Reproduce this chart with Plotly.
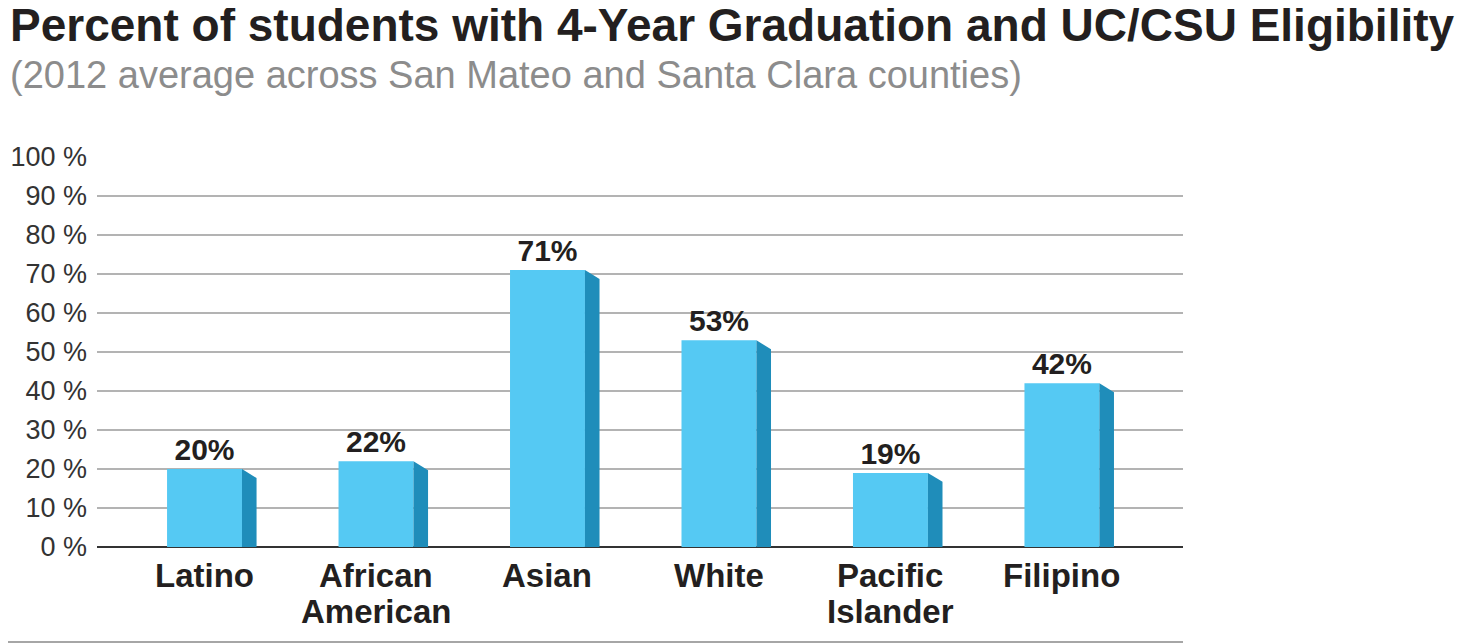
import plotly.graph_objects as go

# data
groups = ["Latino", "African<br>American", "Asian", "White", "Pacific<br>Islander", "Filipino"]
pct = [20, 22, 71, 53, 19, 42]
pct_labels = ["20%", "22%", "71%", "53%", "19%", "42%"]
y_ticks = [0, 10, 20, 30, 40, 50, 60, 70, 80, 90, 100]
y_tick_text = [f"{t} %" for t in y_ticks]

title = "Percent of students with 4-Year Graduation and UC/CSU Eligibility"
subtitle = "(2012 average across San Mateo and Santa Clara counties)"

W, H = 1463, 644
OFF = 8  # page body margin, the figure is drawn 8px in from the window corner
ML, MR = 97 - OFF, 280 + OFF
MT, MB = 157 - OFF, 97 + OFF
plot_w = W - ML - MR
plot_h = H - MT - MB


def px_x(x):
    # window pixel x -> paper coordinate
    return (x - OFF - ML) / plot_w


def px_y(y):
    # window pixel y -> paper coordinate
    return 1 - (y - OFF - MT) / plot_h


front = "#55c9f3"
side = "#1f8dba"
ink = "#231f20"
bar_w = 0.437
dx = 0.085      # depth of side face, in category units
dy = 2.3        # slope of side face top, in percent

xs = list(range(len(groups)))

fig = go.Figure()
fig.add_trace(go.Bar(
    x=xs, y=pct, width=bar_w, marker_color=front, marker_line_width=0,
    text=pct_labels, textposition="outside", cliponaxis=False,
    textfont=dict(family="Liberation Sans", size=30, color=ink, weight="bold"),
    hoverinfo="skip", showlegend=False,
))

# fake 3d side faces
for x, v in zip(xs, pct):
    xr = x + bar_w / 2
    fig.add_trace(go.Scatter(
        x=[xr, xr + dx, xr + dx, xr, xr],
        y=[v, v - dy, 0, 0, v],
        fill="toself", fillcolor=side, mode="lines", line=dict(width=0),
        hoverinfo="skip", showlegend=False,
    ))

fig.update_xaxes(
    range=[-0.627, 5.706], showticklabels=False, automargin=False,
    showgrid=False, zeroline=False, showline=False, ticks="",
)
fig.update_yaxes(
    range=[0, 100], tickvals=y_ticks, ticktext=y_tick_text, automargin=False,
    tickfont=dict(family="Liberation Sans", size=27, color="#333333"),
    showgrid=True, gridcolor="#b3b3b3", gridwidth=2,
    zeroline=True, zerolinecolor="#333333", zerolinewidth=2,
    showline=False, ticks="", ticklabelstandoff=9,
)

# category names, one annotation per line so the line spacing can be tight
for x, g in zip(xs, groups):
    for i, line in enumerate(g.split("<br>")):
        fig.add_annotation(
            text="<b>" + line + "</b>", x=x, xref="x", yref="paper",
            y=px_y(575 + 36 * i), yanchor="middle", showarrow=False,
            font=dict(family="Liberation Sans", size=33, color=ink),
        )

fig.add_annotation(
    text="<b>" + title + "</b>", xref="paper", yref="paper",
    x=px_x(8), y=px_y(-3), xanchor="left", yanchor="top",
    showarrow=False, font=dict(family="Liberation Sans", size=46, color=ink),
)
fig.add_annotation(
    text=subtitle, xref="paper", yref="paper",
    x=px_x(8), y=px_y(52), xanchor="left", yanchor="top",
    showarrow=False, font=dict(family="Liberation Sans", size=38, color="#8c8c8c"),
)

# grey rule along the bottom
fig.add_shape(
    type="line", xref="paper", yref="paper",
    x0=px_x(0), x1=1, y0=px_y(642), y1=px_y(642),
    line=dict(color="#a6a6a6", width=2),
)

fig.update_layout(
    width=W, height=H, margin=dict(l=ML, r=MR, t=MT, b=MB),
    plot_bgcolor="white", paper_bgcolor="white",
)

fig.write_html("out.html")
